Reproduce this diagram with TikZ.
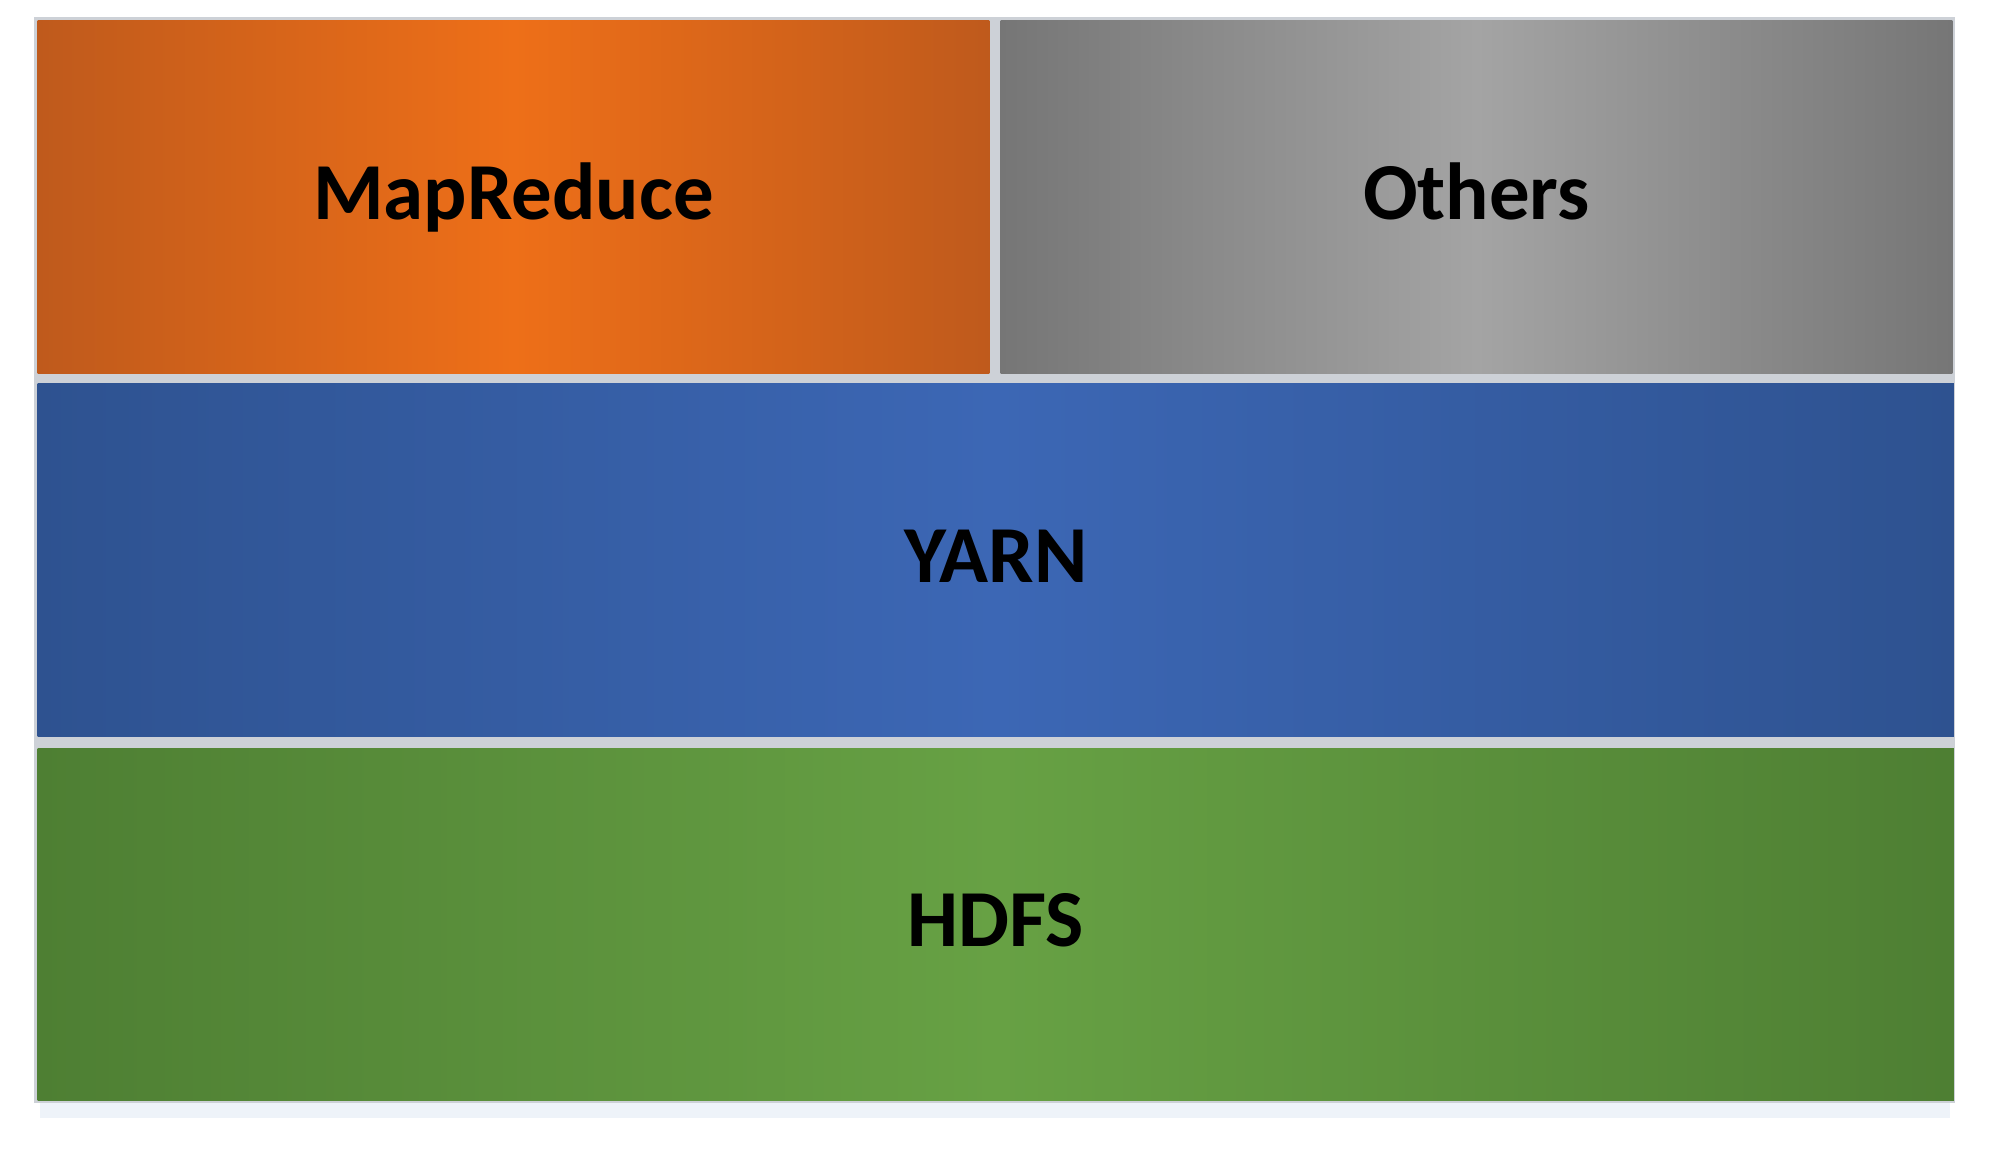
\documentclass[tikz,border=0pt]{standalone}
\usepackage{fontspec}
\setmainfont{Carlito}
\usepackage{tikz}
\usetikzlibrary{positioning}
\usepackage{xcolor}
\definecolor{mrorange}{HTML}{EE6F18}
\definecolor{mrorangedark}{HTML}{BF5A1C}
\definecolor{othgray}{HTML}{A4A4A4}
\definecolor{othgraydark}{HTML}{767676}
\definecolor{yarnblue}{HTML}{3C67B5}
\definecolor{yarnbluedark}{HTML}{2E5290}
\definecolor{hdfsgreen}{HTML}{67A144}
\definecolor{hdfsgreendark}{HTML}{4E7F33}
\definecolor{gapgray}{HTML}{CDD1D7}
\definecolor{shadowblue}{HTML}{EEF3F9}

\begin{document}
\begin{tikzpicture}[
  x=0.01cm, y=-0.01cm,
  font=\bfseries\fontsize{23}{27}\selectfont,
  layer/.style={
    rectangle,
    inner sep=0pt,
    anchor=north west,
    minimum height=3.53cm,
    text height=0.5cm,
    text depth=0.06cm,
    text=black,
    align=center
  },
  halfwide/.style={layer, minimum width=9.51cm},
  fullwide/.style={layer, minimum width=19.15cm}
]

  % Canvas
  \useasboundingbox[fill=white] (0,0) rectangle (2000,1160);

  % Soft shadow and light seams behind the stack
  \fill[shadowblue] (40,40) rectangle (1950,1118);
  \fill[gapgray] (34,17) rectangle (1955,1103);

  % Top row: MapReduce and Others
  \node[halfwide, left color=mrorangedark, right color=mrorangedark, middle color=mrorange] (mapreduce) at (37,20) {MapReduce};
  \node[halfwide, left color=othgraydark, right color=othgraydark, middle color=othgray] (others) at (1000,20) {Others};

  % Middle: YARN
  \node[fullwide, left color=yarnbluedark, right color=yarnbluedark, middle color=yarnblue] (yarn) at (37,383) {YARN};

  % Bottom: HDFS
  \node[fullwide, minimum height=3.52cm, left color=hdfsgreendark, right color=hdfsgreendark, middle color=hdfsgreen] (hdfs) at (37,748) {HDFS};

\end{tikzpicture}
\end{document}
